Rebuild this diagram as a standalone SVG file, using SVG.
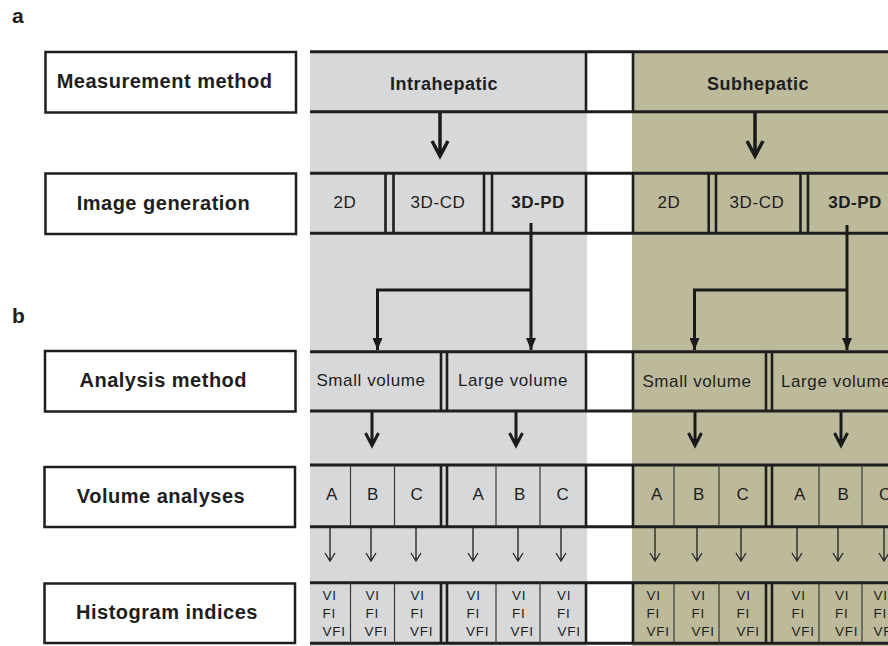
<svg xmlns="http://www.w3.org/2000/svg" width="888" height="646" viewBox="0 0 888 646">
<defs>
<marker id="tri" viewBox="0 0 12 10" refX="12" refY="5" markerWidth="12" markerHeight="10" markerUnits="userSpaceOnUse" orient="auto">
<path d="M0,0 L12,5 L0,10 Z" fill="#1a1a1a"/>
</marker>
</defs>
<style>
.lbl{font-family:"Liberation Sans",Arial,sans-serif;font-weight:bold;font-size:20px;letter-spacing:0.5px;fill:#1e1e1e;text-anchor:middle}
.hdr{font-family:"Liberation Sans",Arial,sans-serif;font-weight:bold;font-size:18px;letter-spacing:0.5px;fill:#1e1e1e;text-anchor:middle}
.t{font-family:"Liberation Sans",Arial,sans-serif;font-size:17px;letter-spacing:0.6px;fill:#1e1e1e;text-anchor:middle}
.tb{font-family:"Liberation Sans",Arial,sans-serif;font-weight:bold;font-size:17px;letter-spacing:0.5px;fill:#1e1e1e;text-anchor:middle}
.s{font-family:"Liberation Sans",Arial,sans-serif;font-size:13.5px;letter-spacing:0.7px;fill:#1e1e1e}
.pl{font-family:"Liberation Sans",Arial,sans-serif;font-weight:bold;font-size:21px;fill:#1e1e1e}
.box{fill:#ffffff;stroke:#1e1e1e;stroke-width:2.5}
.h{stroke:#1e1e1e;stroke-width:3;fill:none}
.v{stroke:#1e1e1e;stroke-width:2.6;fill:none}
.thin{stroke:#3a3a3a;stroke-width:1.2;fill:none}
.big{stroke:#1a1a1a;stroke-width:3.5;fill:none;stroke-linejoin:miter}
.mid{stroke:#1a1a1a;stroke-width:3;fill:none}
.sm{stroke:#2a2a2a;stroke-width:1.4;fill:none}
</style>
<rect width="888" height="646" fill="#ffffff"/>
<g id="bands">
<rect x="310" y="51" width="277" height="595" fill="#d7d8da"/>
<rect x="632" y="51" width="256" height="595" fill="#bcba9b"/>
</g>
<text class="pl" x="12" y="23">a</text>
<text class="pl" x="12" y="323">b</text>
<g id="label-measurement"><rect class="box" x="45.5" y="52" width="250.5" height="60.5"/><text class="lbl" x="164.5" y="88">Measurement method</text></g>
<g id="label-image"><rect class="box" x="45.5" y="173.5" width="250.5" height="60.5"/><text class="lbl" x="163.5" y="210">Image generation</text></g>
<g id="label-analysis"><rect class="box" x="45" y="351" width="250.5" height="60.5"/><text class="lbl" x="163.3" y="387">Analysis method</text></g>
<g id="label-volume"><rect class="box" x="44.5" y="467" width="250.5" height="60"/><text class="lbl" x="161" y="503">Volume analyses</text></g>
<g id="label-histogram"><rect class="box" x="44.5" y="583.5" width="250.5" height="59.5"/><text class="lbl" x="167" y="619">Histogram indices</text></g>
<g id="grid">
<path class="h" d="M310,51.7H888M310,111.7H888M310,173.3H888M310,233.3H888M310,351.7H888M310,411H888M310,465H888M310,526.7H888M310,582.7H888M310,643.3H888"/>
<path class="v" d="M586,51.7V111.7M633,51.7V111.7M586,173.3V233.3M633,173.3V233.3M586,351.7V411M633,351.7V411M586,465V526.7M633,465V526.7M586,582.7V643.3M633,582.7V643.3"/>
<path class="v" d="M385.5,173.3V233.3M393.5,173.3V233.3M484,173.3V233.3M492,173.3V233.3M708.7,173.3V233.3M716,173.3V233.3M800.5,173.3V233.3M808,173.3V233.3"/>
<path class="v" d="M441,351.7V411M447,351.7V411M766,351.7V411M772,351.7V411M441,465V526.7M447,465V526.7M766,465V526.7M772,465V526.7M441,582.7V643.3M447,582.7V643.3M766,582.7V643.3M772,582.7V643.3"/>
<path class="thin" d="M350.5,465V526.7M394.5,465V526.7M496,465V526.7M540,465V526.7M674,465V526.7M719,465V526.7M819,465V526.7M862,465V526.7M350.5,582.7V643.3M394.5,582.7V643.3M496,582.7V643.3M540,582.7V643.3M674,582.7V643.3M719,582.7V643.3M819,582.7V643.3M862,582.7V643.3"/>
</g>
<g id="node-intrahepatic"><text class="hdr" x="444" y="90">Intrahepatic</text></g>
<g id="node-subhepatic"><text class="hdr" x="758" y="90">Subhepatic</text></g>
<g id="node-intra-images"><text class="t" x="345" y="208">2D</text><text class="t" x="438" y="208">3D-CD</text><text class="tb" x="538" y="208">3D-PD</text></g>
<g id="node-sub-images"><text class="t" x="669" y="208">2D</text><text class="t" x="757" y="208">3D-CD</text><text class="tb" x="855" y="208">3D-PD</text></g>
<g id="node-intra-analysis"><text class="t" x="371" y="386">Small volume</text><text class="t" x="513" y="386">Large volume</text></g>
<g id="node-sub-analysis"><text class="t" x="697" y="387">Small volume</text><text class="t" x="781" y="387" style="text-anchor:start">Large volume</text></g>
<g id="node-intra-volumes"><text class="t" x="332" y="499.5">A</text><text class="t" x="373" y="499.5">B</text><text class="t" x="417" y="499.5">C</text><text class="t" x="478.5" y="499.5">A</text><text class="t" x="520" y="499.5">B</text><text class="t" x="563" y="499.5">C</text></g>
<g id="node-sub-volumes"><text class="t" x="657" y="499.5">A</text><text class="t" x="699" y="499.5">B</text><text class="t" x="743" y="499.5">C</text><text class="t" x="800" y="499.5">A</text><text class="t" x="843.5" y="499.5">B</text><text class="t" x="885.5" y="499.5">C</text></g>
<g id="node-intra-indices">
<text class="s" x="322.5" y="600">VI</text><text class="s" x="322.5" y="618">FI</text><text class="s" x="322.5" y="636">VFI</text>
<text class="s" x="365.5" y="600">VI</text><text class="s" x="365.5" y="618">FI</text><text class="s" x="364.5" y="636">VFI</text>
<text class="s" x="410.5" y="600">VI</text><text class="s" x="410.5" y="618">FI</text><text class="s" x="410" y="636">VFI</text>
<text class="s" x="466.5" y="600">VI</text><text class="s" x="466.5" y="618">FI</text><text class="s" x="466" y="636">VFI</text>
<text class="s" x="512" y="600">VI</text><text class="s" x="512" y="618">FI</text><text class="s" x="510.5" y="636">VFI</text>
<text class="s" x="557" y="600">VI</text><text class="s" x="557" y="618">FI</text><text class="s" x="557.5" y="636">VFI</text>
</g>
<g id="node-sub-indices">
<text class="s" x="646.5" y="600">VI</text><text class="s" x="646.5" y="618">FI</text><text class="s" x="646.5" y="636">VFI</text>
<text class="s" x="691.5" y="600">VI</text><text class="s" x="691.5" y="618">FI</text><text class="s" x="691.5" y="636">VFI</text>
<text class="s" x="736.5" y="600">VI</text><text class="s" x="736.5" y="618">FI</text><text class="s" x="736.5" y="636">VFI</text>
<text class="s" x="791.5" y="600">VI</text><text class="s" x="791.5" y="618">FI</text><text class="s" x="791.5" y="636">VFI</text>
<text class="s" x="835" y="600">VI</text><text class="s" x="835" y="618">FI</text><text class="s" x="835" y="636">VFI</text>
<text class="s" x="873.5" y="600">VI</text><text class="s" x="873.5" y="618">FI</text><text class="s" x="873.5" y="636">VFI</text>
</g>
<g id="connectors">
<path class="big" d="M440,113V156M432,141L440,156L448,141"/>
<path class="big" d="M755,113V156M747,141L755,156L763,141"/>
<path class="mid" d="M531,223V350" marker-end="url(#tri)"/>
<path class="mid" d="M531,290H377.5V350" marker-end="url(#tri)"/>
<path class="mid" d="M847,225V350" marker-end="url(#tri)"/>
<path class="mid" d="M847,290H694.5V350" marker-end="url(#tri)"/>
<path class="mid" d="M372,412V445M365.5,433L372,445.5L378.5,433"/>
<path class="mid" d="M516,412V445M509.5,433L516,445.5L522.5,433"/>
<path class="mid" d="M695,412V445M688.5,433L695,445.5L701.5,433"/>
<path class="mid" d="M841,412V445M834.5,433L841,445.5L847.5,433"/>
<path class="sm" d="M330,528V561M325,553L330,561L335,553M371,528V561M366,553L371,561L376,553M416,528V561M411,553L416,561L421,553M473,528V561M468,553L473,561L478,553M518,528V561M513,553L518,561L523,553M561,528V561M556,553L561,561L566,553"/>
<path class="sm" d="M655,528V561M650,553L655,561L660,553M697,528V561M692,553L697,561L702,553M741,528V561M736,553L741,561L746,553M797,528V561M792,553L797,561L802,553M838,528V561M833,553L838,561L843,553M884,528V561M879,553L884,561L889,553"/>
</g>
</svg>
